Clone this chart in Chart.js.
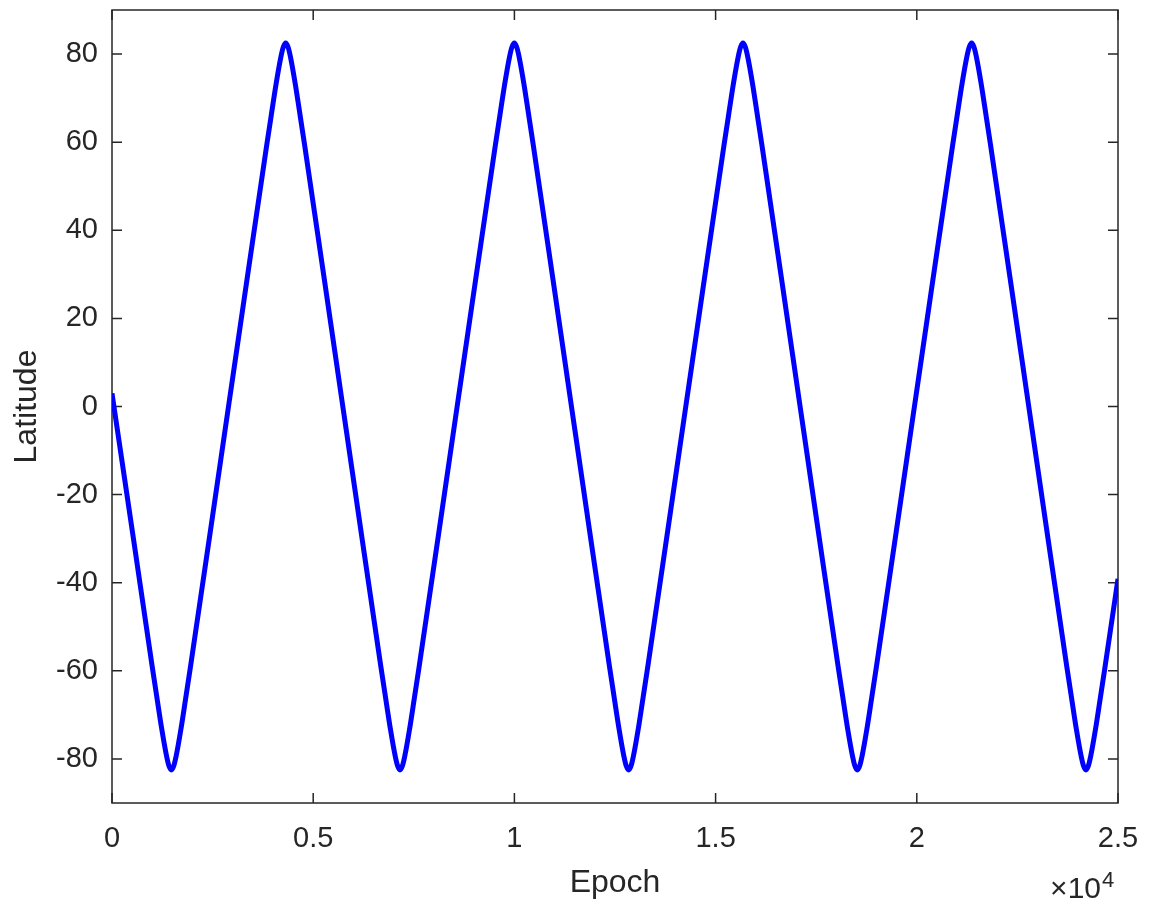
<!DOCTYPE html>
<html lang="en">
<head>
  <meta charset="UTF-8">
  <title>Latitude vs Epoch</title>
  <script src="https://cdn.jsdelivr.net/npm/chart.js"></script>
  <style>
    html, body { margin: 0; padding: 0; background: #fff; }
    #wrap { width: 1149px; height: 915px; position: relative; }
  </style>
</head>
<body>
  <div id="wrap">
    <canvas id="latChart" aria-label="Latitude over epoch" role="img"></canvas>
  </div>

  <script>
    // values
    const epochs = [
      0, 528, 1002, 1120, 1238, 1357, 1416, 1475, 1534, 1593, 1712, 1830, 1948, 2422,
      2895, 3369, 3843, 3961, 4079, 4198, 4257, 4316, 4375, 4434, 4553, 4671, 4789, 5263,
      5736, 6210, 6684, 6802, 6920, 7039, 7098, 7157, 7216, 7275, 7394, 7512, 7630, 8104,
      8577, 9051, 9525, 9643, 9761, 9880, 9939, 9998, 10057, 10116, 10235, 10353, 10471, 10945,
      11418, 11892, 12366, 12484, 12602, 12721, 12780, 12839, 12898, 12957, 13076, 13194, 13312, 13786,
      14259, 14733, 15207, 15325, 15443, 15562, 15621, 15680, 15739, 15798, 15917, 16035, 16153, 16627,
      17100, 17574, 18048, 18166, 18284, 18403, 18462, 18521, 18580, 18639, 18758, 18876, 18994, 19468,
      19941, 20415, 20889, 21007, 21125, 21244, 21303, 21362, 21421, 21480, 21599, 21717, 21835, 22309,
      22782, 23256, 23730, 23848, 23966, 24085, 24144, 24203, 24262, 24321, 24440, 24558, 24676, 25000
    ];
    const latitude = [
      3.0, -29.7, -59.2, -66.3, -73.3, -79.4, -81.6, -82.5, -81.6, -79.4, -73.3, -66.3, -59.2, -29.7,
      0, 29.7, 59.2, 66.3, 73.3, 79.4, 81.6, 82.5, 81.6, 79.4, 73.3, 66.3, 59.2, 29.7,
      0, -29.7, -59.2, -66.3, -73.3, -79.4, -81.6, -82.5, -81.6, -79.4, -73.3, -66.3, -59.2, -29.7,
      0, 29.7, 59.2, 66.3, 73.3, 79.4, 81.6, 82.5, 81.6, 79.4, 73.3, 66.3, 59.2, 29.7,
      0, -29.7, -59.2, -66.3, -73.3, -79.4, -81.6, -82.5, -81.6, -79.4, -73.3, -66.3, -59.2, -29.7,
      0, 29.7, 59.2, 66.3, 73.3, 79.4, 81.6, 82.5, 81.6, 79.4, 73.3, 66.3, 59.2, 29.7,
      0, -29.7, -59.2, -66.3, -73.3, -79.4, -81.6, -82.5, -81.6, -79.4, -73.3, -66.3, -59.2, -29.7,
      0, 29.7, 59.2, 66.3, 73.3, 79.4, 81.6, 82.5, 81.6, 79.4, 73.3, 66.3, 59.2, 29.7,
      0, -29.7, -59.2, -66.3, -73.3, -79.4, -81.6, -82.5, -81.6, -79.4, -73.3, -66.3, -59.2, -39.1
    ];

    // axis ticks
    const xTickValues = [0, 5000, 10000, 15000, 20000, 25000];
    const xTickLabels = ['0', '0.5', '1', '1.5', '2', '2.5'];
    const yTickValues = [-80, -60, -40, -20, 0, 20, 40, 60, 80];

    const FONT = '"Liberation Sans", Arial, Helvetica, sans-serif';
    const INK = '#262626';

    // matlab-ish box with inward ticks on all four sides
    const boxPlugin = {
      id: 'box',
      beforeDatasetsDraw(chart) {
        const { ctx, chartArea: a, scales } = chart;
        const len = 10;
        ctx.save();
        ctx.strokeStyle = INK;
        ctx.lineWidth = 1.5;
        ctx.strokeRect(a.left, a.top, a.right - a.left, a.bottom - a.top);
        ctx.beginPath();
        xTickValues.forEach(v => {
          const px = scales.x.getPixelForValue(v);
          ctx.moveTo(px, a.bottom); ctx.lineTo(px, a.bottom - len);
          ctx.moveTo(px, a.top); ctx.lineTo(px, a.top + len);
        });
        yTickValues.forEach(v => {
          const py = scales.y.getPixelForValue(v);
          ctx.moveTo(a.left, py); ctx.lineTo(a.left + len, py);
          ctx.moveTo(a.right, py); ctx.lineTo(a.right - len, py);
        });
        ctx.stroke();
        ctx.restore();
      },
      afterDraw(chart) {
        // exponent label under the right end of the x axis
        const { ctx, chartArea: a } = chart;
        ctx.save();
        ctx.fillStyle = INK;
        ctx.textBaseline = 'alphabetic';
        ctx.textAlign = 'right';
        ctx.font = '30px ' + FONT;
        ctx.fillText('\u00d710', a.right - 17, 898);
        ctx.textAlign = 'left';
        ctx.font = '22px ' + FONT;
        ctx.fillText('4', a.right - 16, 887);
        ctx.restore();
      }
    };

    const ctx = document.getElementById('latChart');
    new Chart(ctx, {
      type: 'line',
      data: {
        datasets: [{
          data: epochs.map((e, i) => ({ x: e, y: latitude[i] })),
          borderColor: '#0000ff',
          borderWidth: 5,
          pointRadius: 0,
          fill: false,
          cubicInterpolationMode: 'monotone'
        }]
      },
      options: {
        responsive: true,
        maintainAspectRatio: false,
        animation: false,
        layout: { padding: { top: 10, right: 31, left: 0, bottom: 0 } },
        plugins: {
          legend: { display: false },
          tooltip: { enabled: false }
        },
        scales: {
          x: {
            type: 'linear',
            min: 0,
            max: 25000,
            grid: { display: false },
            border: { display: false },
            afterBuildTicks: s => { s.ticks = xTickValues.map(v => ({ value: v })); },
            afterFit: s => { s.height = 112; s.paddingLeft = 0; s.paddingRight = 0; },
            ticks: {
              padding: 11,
              color: INK,
              font: { family: FONT, size: 29 },
              maxRotation: 0,
              callback: (v) => xTickLabels[xTickValues.indexOf(v)]
            },
            title: {
              display: true,
              text: 'Epoch',
              color: INK,
              font: { family: FONT, size: 32 },
              padding: { bottom: 13 }
            }
          },
          y: {
            type: 'linear',
            min: -90,
            max: 90,
            grid: { display: false },
            border: { display: false },
            afterBuildTicks: s => { s.ticks = yTickValues.map(v => ({ value: v })); },
            afterFit: s => { s.width = 112; s.paddingTop = 0; s.paddingBottom = 0; },
            ticks: {
              padding: 6,
              color: INK,
              font: { family: FONT, size: 29 },
              callback: (v) => String(v)
            },
            title: {
              display: true,
              text: 'Latitude',
              color: INK,
              font: { family: FONT, size: 32 },
              padding: { top: 8 }
            }
          }
        }
      },
      plugins: [boxPlugin]
    });
  </script>
</body>
</html>
